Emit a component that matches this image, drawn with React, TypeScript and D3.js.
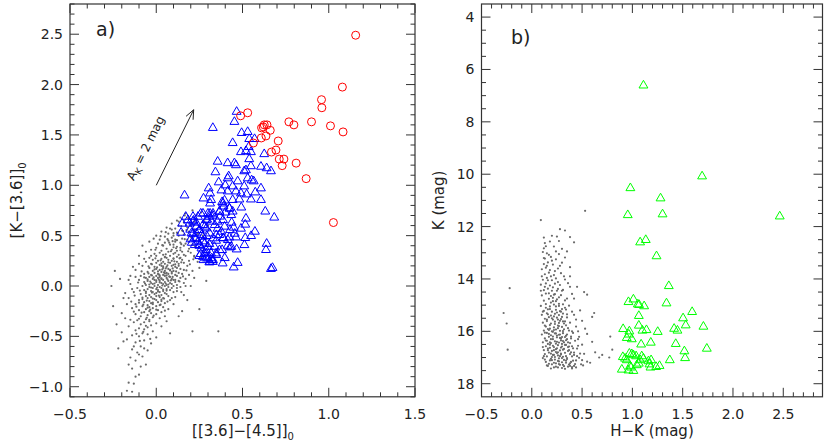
import React from "react";
import * as d3 from "d3";

// ---------- Panel a data ----------
const redCircles: [number, number][] = [
  [1.156, 2.49], [1.079, 1.975], [0.958, 1.85], [0.96, 1.77], [0.489, 1.69], [0.53, 1.72],
  [0.769, 1.63], [0.798, 1.6], [0.9, 1.63], [1.01, 1.59], [1.083, 1.53], [0.611, 1.57],
  [0.626, 1.6], [0.642, 1.6], [0.62, 1.58], [0.661, 1.546], [0.636, 1.49], [0.609, 1.47],
  [0.563, 1.42], [0.707, 1.44], [0.694, 1.35], [0.668, 1.33], [0.713, 1.26], [0.74, 1.26],
  [0.73, 1.195], [0.811, 1.22], [0.869, 1.066], [1.027, 0.63],
];

const blueTriangles: [number, number][] = [
  [0.466, 1.73], [0.453, 1.63], [0.328, 1.57], [0.495, 1.52], [0.53, 1.53], [0.539, 1.46],
  [0.57, 1.46], [0.443, 1.42], [0.536, 1.38], [0.549, 1.33], [0.52, 1.34], [0.491, 1.33],
  [0.626, 1.31], [0.356, 1.235], [0.414, 1.22], [0.453, 1.22], [0.462, 1.2], [0.539, 1.26],
  [0.549, 1.19], [0.607, 1.185], [0.64, 1.17], [0.665, 1.14], [0.343, 1.13], [0.42, 1.09],
  [0.414, 1.07], [0.51, 1.14], [0.52, 1.15], [0.53, 1.07], [0.553, 1.05], [0.565, 1.04],
  [0.472, 1.04], [0.443, 0.99], [0.362, 1.03], [0.4, 1.0], [0.51, 0.99], [0.607, 0.97],
  [0.304, 0.97], [0.312, 0.92], [0.378, 0.95], [0.414, 0.94], [0.462, 0.94], [0.491, 0.92],
  [0.574, 0.93], [0.524, 0.91], [0.164, 0.9], [0.274, 0.87], [0.318, 0.855], [0.382, 0.834],
  [0.443, 0.855], [0.482, 0.86], [0.549, 0.86], [0.607, 0.855], [0.312, 0.82], [0.39, 0.79],
  [0.424, 0.77], [0.493, 0.78], [0.366, 0.74], [0.4, 0.73], [0.443, 0.74], [0.632, 0.74],
  [0.258, 0.72], [0.312, 0.72], [0.328, 0.7], [0.37, 0.69], [0.684, 0.68], [0.15, 0.62],
  [0.231, 0.63], [0.216, 0.65], [0.295, 0.66], [0.355, 0.64], [0.437, 0.63], [0.52, 0.67],
  [0.516, 0.61], [0.449, 0.58], [0.428, 0.556], [0.356, 0.57], [0.281, 0.59], [0.197, 0.56],
  [0.25, 0.556], [0.572, 0.54], [0.491, 0.57], [0.455, 0.52], [0.366, 0.507], [0.212, 0.52],
  [0.144, 0.53], [0.293, 0.497], [0.55, 0.497], [0.516, 0.477], [0.39, 0.477], [0.424, 0.483],
  [0.462, 0.483], [0.199, 0.464], [0.231, 0.47], [0.27, 0.444], [0.347, 0.45], [0.206, 0.43],
  [0.308, 0.417], [0.64, 0.42], [0.511, 0.407], [0.414, 0.4], [0.428, 0.384], [0.337, 0.39],
  [0.25, 0.4], [0.289, 0.358], [0.382, 0.358], [0.466, 0.364], [0.636, 0.358], [0.258, 0.318],
  [0.347, 0.324], [0.318, 0.324], [0.397, 0.278], [0.25, 0.298], [0.289, 0.275], [0.324, 0.258],
  [0.274, 0.258], [0.308, 0.235], [0.328, 0.24], [0.385, 0.225], [0.472, 0.23], [0.449, 0.185],
  [0.665, 0.17], [0.674, 0.18],
  [0.194, 0.62], [0.213, 0.64], [0.233, 0.59], [0.252, 0.556], [0.271, 0.606], [0.29, 0.573],
  [0.262, 0.506], [0.223, 0.474], [0.242, 0.44], [0.281, 0.424], [0.3, 0.39], [0.262, 0.374],
  [0.29, 0.325], [0.32, 0.275], [0.31, 0.24], [0.329, 0.258], [0.348, 0.308], [0.367, 0.357],
  [0.204, 0.523], [0.213, 0.688], [0.31, 0.688], [0.329, 0.72], [0.367, 0.738], [0.387, 0.82],
  [0.396, 0.85], [0.425, 0.77], [0.435, 0.705], [0.387, 0.655], [0.396, 0.59], [0.377, 0.54],
  [0.348, 0.506], [0.387, 0.474], [0.415, 0.457], [0.435, 0.39], [0.329, 0.474], [0.31, 0.523],
  [0.184, 0.655], [0.171, 0.688], [0.271, 0.72], [0.3, 0.72], [0.242, 0.688], [0.29, 0.655],
  [0.32, 0.64], [0.339, 0.606], [0.271, 0.49], [0.233, 0.523], [0.252, 0.407], [0.223, 0.407],
  [0.281, 0.325], [0.271, 0.29], [0.3, 0.275],
];

const grayA: [number, number][] = [
  [0.21, 0.75], [0.17, 0.72], [0.26, 0.73], [0.23, 0.7], [0.14, 0.68], [0.19, 0.67],
  [0.12, 0.65], [0.22, 0.64], [0.28, 0.66], [0.09, 0.62], [0.16, 0.63], [0.2, 0.61],
  [0.13, 0.6], [0.25, 0.59], [0.06, 0.58], [0.11, 0.57], [0.18, 0.58], [0.22, 0.56],
  [0.15, 0.55], [0.09, 0.56], [0.03, 0.54], [0.12, 0.53], [0.19, 0.54], [0.24, 0.52],
  [0.07, 0.52], [0.16, 0.51], [0.1, 0.5], [0.0, 0.5], [0.05, 0.49], [0.13, 0.5],
  [0.2, 0.49], [0.27, 0.5], [0.09, 0.48], [0.15, 0.47], [0.11, 0.46], [0.02, 0.46],
  [0.07, 0.45], [0.18, 0.46], [0.23, 0.45], [-0.04, 0.44], [0.11, 0.44], [0.14, 0.43],
  [0.05, 0.43], [0.01, 0.42], [0.08, 0.41], [0.17, 0.42], [0.21, 0.41], [-0.08, 0.4],
  [0.04, 0.4], [0.12, 0.39], [0.1, 0.41], [0.16, 0.4], [0.0, 0.38], [0.06, 0.37],
  [0.14, 0.38], [0.19, 0.37], [0.25, 0.38], [-0.03, 0.36], [0.09, 0.36], [0.03, 0.35],
  [0.12, 0.35], [-0.06, 0.34], [0.02, 0.33], [0.07, 0.34], [0.11, 0.33], [0.15, 0.34],
  [0.2, 0.33], [-0.01, 0.32], [0.04, 0.31], [0.1, 0.32], [0.13, 0.31], [-0.1, 0.3],
  [0.0, 0.3], [0.05, 0.29], [0.08, 0.3], [0.12, 0.29], [0.17, 0.3], [0.22, 0.29],
  [-0.04, 0.28], [0.03, 0.27], [0.06, 0.28], [0.1, 0.27], [0.14, 0.28], [-0.02, 0.26],
  [0.01, 0.25], [0.07, 0.26], [0.09, 0.25], [0.15, 0.26], [0.19, 0.25], [-0.06, 0.24],
  [0.0, 0.23], [0.04, 0.24], [0.08, 0.23], [0.12, 0.24], [0.16, 0.23], [0.24, 0.24],
  [-0.03, 0.22], [0.02, 0.21], [0.05, 0.22], [0.1, 0.21], [0.13, 0.22], [-0.08, 0.2],
  [-0.01, 0.19], [0.03, 0.2], [0.06, 0.19], [0.09, 0.2], [0.11, 0.19], [0.18, 0.2],
  [-0.04, 0.18], [0.0, 0.17], [0.04, 0.18], [0.07, 0.17], [0.12, 0.18], [0.14, 0.17],
  [-0.12, 0.16], [-0.02, 0.15], [0.02, 0.16], [0.05, 0.15], [0.08, 0.16], [0.1, 0.15],
  [0.16, 0.16], [0.21, 0.15], [-0.05, 0.14], [-0.01, 0.13], [0.03, 0.14], [0.06, 0.13],
  [0.09, 0.14], [0.13, 0.13], [-0.07, 0.12], [-0.03, 0.11], [0.01, 0.12], [0.04, 0.11],
  [0.07, 0.12], [0.11, 0.11], [0.15, 0.12], [0.19, 0.11], [-0.09, 0.1], [-0.04, 0.09],
  [0.0, 0.1], [0.02, 0.09], [0.05, 0.1], [0.08, 0.09], [0.12, 0.1], [-0.06, 0.08],
  [-0.02, 0.07], [0.01, 0.08], [0.03, 0.07], [0.06, 0.08], [0.09, 0.07], [0.14, 0.08],
  [0.17, 0.07], [-0.1, 0.06], [-0.05, 0.05], [-0.01, 0.06], [0.02, 0.05], [0.04, 0.06],
  [0.07, 0.05], [0.1, 0.06], [0.13, 0.05], [-0.07, 0.04], [-0.03, 0.03], [0.0, 0.04],
  [0.03, 0.03], [0.05, 0.04], [0.08, 0.03], [0.11, 0.04], [0.16, 0.03], [-0.15, 0.02],
  [-0.06, 0.01], [-0.02, 0.02], [0.01, 0.01], [0.04, 0.02], [0.06, 0.01], [0.09, 0.02],
  [0.12, 0.01], [-0.08, 0.0], [-0.04, -0.01], [-0.01, 0.0], [0.02, -0.01], [0.05, 0.0],
  [0.07, -0.01], [0.1, 0.0], [0.14, -0.01], [0.2, 0.0], [-0.11, -0.02], [-0.05, -0.03],
  [-0.02, -0.02], [0.0, -0.03], [0.03, -0.02], [0.06, -0.03], [0.09, -0.02], [-0.07, -0.04],
  [-0.03, -0.05], [0.01, -0.04], [0.04, -0.05], [0.08, -0.04], [0.12, -0.05], [-0.13, -0.06],
  [-0.06, -0.07], [-0.02, -0.06], [0.0, -0.07], [0.02, -0.06], [0.05, -0.07], [0.1, -0.06],
  [-0.09, -0.08], [-0.04, -0.09], [-0.01, -0.08], [0.03, -0.09], [0.06, -0.08], [0.16, -0.09],
  [-0.06, -0.1], [-0.03, -0.11], [0.0, -0.1], [0.02, -0.11], [0.07, -0.1], [0.11, -0.11],
  [-0.16, -0.12], [-0.08, -0.13], [-0.05, -0.12], [-0.01, -0.13], [0.04, -0.12], [-0.1, -0.14],
  [-0.04, -0.15], [0.0, -0.14], [0.03, -0.15], [0.08, -0.14], [-0.07, -0.16], [-0.03, -0.17],
  [0.01, -0.16], [0.05, -0.17], [-0.12, -0.18], [-0.05, -0.19], [-0.02, -0.18], [0.02, -0.19],
  [0.1, -0.18], [-0.08, -0.2], [-0.04, -0.21], [0.0, -0.2], [0.04, -0.21], [-0.14, -0.22],
  [-0.06, -0.23], [-0.02, -0.22], [0.07, -0.23], [-0.1, -0.24], [-0.04, -0.25], [0.01, -0.24],
  [0.15, -0.25], [-0.07, -0.26], [-0.03, -0.27], [0.03, -0.26], [-0.12, -0.28], [-0.05, -0.29],
  [0.0, -0.28], [-0.09, -0.3], [-0.02, -0.31], [0.05, -0.3], [-0.18, -0.32], [-0.06, -0.33],
  [0.02, -0.32], [-0.11, -0.34], [-0.04, -0.35], [-0.07, -0.36], [0.0, -0.37], [-0.13, -0.36],
  [-0.09, -0.38], [-0.03, -0.39], [-0.16, -0.4], [-0.05, -0.41], [0.03, -0.4], [-0.1, -0.42],
  [-0.07, -0.43], [-0.12, -0.44], [-0.02, -0.45], [-0.2, -0.46], [-0.08, -0.47], [-0.05, -0.48],
  [-0.14, -0.49], [-0.1, -0.5], [0.0, -0.51], [-0.17, -0.53], [-0.07, -0.54], [-0.12, -0.56],
  [-0.03, -0.57], [-0.09, -0.6], [-0.14, -0.63], [-0.05, -0.64], [-0.11, -0.66], [-0.08, -0.7],
  [-0.15, -0.71], [-0.12, -0.74], [-0.06, -0.78], [-0.14, -0.82], [-0.1, -0.88], [-0.16, -0.96],
  [-0.13, -0.97], [-0.17, -1.04], [-0.14, -1.05],
  [-0.26, 0.0], [-0.24, 0.15], [-0.23, -0.38], [-0.2, -0.27], [0.25, -0.23], [0.21, -0.45],
  [0.36, -0.45], [0.25, 0.18], [0.29, 0.05], [-0.19, -0.12], [0.17, 0.0], [0.3, 0.6],
  [0.19, 0.44], [0.2, 0.6], [0.24, 0.52], [0.27, 0.35], [0.3, 0.42], [0.22, 0.3], [0.26, 0.28],
  [-0.21, 0.07], [-0.17, -0.18], [-0.15, 0.1], [0.18, -0.14], [0.22, 0.08], [-0.19, -0.55],
  [-0.22, -0.62], [0.06, -0.35], [0.08, -0.47], [-0.25, -0.2], [0.13, -0.3],
];

const grayAExtra: [number, number][] = [
  [0.015, 0.115], [0.045, 0.135], [0.075, 0.095], [-0.015, 0.085], [0.035, 0.165], [0.065, 0.205],
  [0.095, 0.175], [-0.035, 0.045], [0.005, -0.015], [0.055, 0.025], [0.085, 0.055], [0.115, 0.145],
  [0.025, 0.255], [0.055, 0.315], [-0.045, 0.125], [-0.065, 0.025], [-0.025, -0.065], [0.015, -0.095],
  [0.045, -0.125], [-0.055, -0.145], [0.105, 0.245], [0.135, 0.275], [0.085, 0.345], [0.115, 0.375],
  [0.145, 0.415], [0.165, 0.465], [0.095, 0.445], [0.035, 0.405], [0.065, 0.465], [0.125, 0.525],
  [0.175, 0.555], [0.145, 0.595], [0.205, 0.625], [0.185, 0.675], [0.235, 0.655], [0.005, 0.185],
  [-0.025, 0.215], [-0.085, 0.145], [-0.105, 0.035], [-0.095, -0.045], [-0.125, -0.095], [-0.075, -0.185],
  [-0.035, -0.235], [0.025, -0.185], [0.065, -0.155], [-0.015, -0.295], [-0.055, -0.315], [-0.085, -0.265],
  [-0.115, -0.205], [-0.145, -0.155], [0.135, 0.045], [0.155, 0.095], [0.175, 0.155], [0.195, 0.215],
  [0.215, 0.265], [0.185, 0.345], [0.225, 0.395], [0.205, 0.485], [0.245, 0.445], [0.0, 0.055],
  [0.03, 0.075], [0.06, 0.105], [0.09, 0.125], [0.02, 0.035], [-0.01, 0.025], [0.04, -0.035],
  [0.07, 0.015], [-0.04, 0.015], [0.01, 0.145], [0.04, 0.195], [0.07, 0.235], [0.1, 0.275],
  [0.05, 0.285], [-0.005, 0.275], [-0.045, 0.195], [-0.07, 0.085], [-0.02, -0.125], [0.0, -0.235],
  [-0.04, -0.335], [-0.06, -0.395], [-0.1, -0.325], [-0.13, -0.255], [-0.15, -0.335], [-0.075, -0.455],
  [-0.115, -0.475], [-0.035, -0.525], [-0.095, -0.545], [-0.13, -0.6], [-0.07, -0.62], [-0.1, -0.68],
  [-0.16, -0.78], [-0.09, -0.8], [-0.12, -0.9], [0.12, -0.02], [0.145, -0.06], [0.09, -0.12],
  [0.11, 0.06], [0.13, 0.2], [0.16, 0.31], [0.14, 0.355], [0.1, 0.385], [0.075, 0.43],
  [0.12, 0.455], [0.1, 0.525], [0.155, 0.545], [0.08, 0.57], [0.13, 0.64], [0.165, 0.7],
  [0.22, 0.55], [0.245, 0.6], [-0.005, 0.36], [-0.03, 0.3], [-0.07, 0.27], [-0.1, 0.22],
  [-0.135, 0.19], [-0.16, 0.06], [-0.14, -0.03], [-0.18, -0.07], [-0.12, 0.09], [0.025, 0.495],
  [0.055, 0.535], [-0.015, 0.47], [0.035, 0.005], [0.065, 0.065], [0.095, 0.09], [0.015, 0.065],
  [-0.025, 0.105], [0.05, 0.125], [0.08, 0.155], [0.11, 0.215], [0.145, 0.235], [0.03, 0.225],
  [-0.01, 0.165], [0.055, 0.175], [0.02, 0.105], [-0.05, 0.065], [-0.03, -0.015], [0.01, -0.055],
  [0.06, -0.045], [-0.06, -0.055], [-0.08, -0.115], [-0.02, -0.165], [0.03, -0.135], [-0.1, -0.165],
  [-0.05, -0.215], [0.05, -0.245],
];

// ---------- Panel b data ----------
const greenTriangles: [number, number][] = [
  [1.11, 6.61], [1.693, 10.08], [0.98, 10.53], [1.28, 10.92], [1.3, 11.53], [0.954, 11.56],
  [2.465, 11.61], [1.077, 12.6], [1.133, 12.51], [1.24, 13.13], [1.362, 14.27], [0.961, 14.88],
  [1.01, 14.78], [1.054, 14.97], [1.067, 14.99], [1.117, 15.04], [1.339, 14.93], [1.594, 15.26],
  [1.504, 15.5], [1.064, 15.41], [1.064, 15.78], [1.53, 15.77], [1.706, 15.82], [0.908, 15.91],
  [1.14, 15.95], [1.1, 15.97], [1.252, 16.02], [0.97, 16.0], [1.415, 15.9], [1.448, 15.97],
  [0.944, 16.25], [0.964, 16.12], [0.994, 16.3], [1.087, 16.5], [1.183, 16.43], [1.431, 16.48],
  [1.74, 16.66], [1.517, 16.76], [1.524, 17.02], [1.372, 17.1], [0.905, 16.98], [0.927, 17.04],
  [0.97, 16.85], [0.994, 16.87], [1.01, 16.91], [1.037, 16.95], [1.093, 16.95], [1.11, 17.04],
  [1.16, 17.14], [1.186, 17.1], [1.064, 17.23], [1.044, 17.29], [0.977, 17.33], [0.944, 17.1],
  [0.895, 17.46], [0.961, 17.49], [1.01, 17.51], [0.987, 17.38], [1.18, 17.38], [1.236, 17.36],
  [1.27, 17.32], [1.17, 17.26], [1.077, 17.1],
];

const grayB: [number, number][] = [
  [0.12, 12.42], [0.25, 12.38], [0.13, 12.63], [0.18, 12.57], [0.12, 12.83], [0.22, 12.76],
  [0.3, 12.85], [0.15, 13.02], [0.11, 12.97], [0.27, 13.05], [0.13, 13.22], [0.19, 13.16],
  [0.24, 13.25], [0.33, 13.18], [0.12, 13.43], [0.16, 13.37], [0.21, 13.45], [0.3, 13.38],
  [0.1, 13.63], [0.14, 13.57], [0.18, 13.66], [0.26, 13.6], [0.38, 13.55], [0.13, 13.82],
  [0.17, 13.76], [0.22, 13.85], [0.29, 13.78], [0.11, 14.03], [0.15, 13.96], [0.2, 14.05],
  [0.24, 13.98], [0.33, 14.02], [0.09, 14.22], [0.14, 14.17], [0.18, 14.25], [0.23, 14.18],
  [0.28, 14.23], [0.36, 14.16], [0.12, 14.43], [0.16, 14.37], [0.2, 14.45], [0.26, 14.38],
  [0.31, 14.42], [0.1, 14.63], [0.14, 14.56], [0.19, 14.65], [0.23, 14.58], [0.29, 14.62],
  [0.4, 14.57], [0.12, 14.83], [0.17, 14.76], [0.21, 14.85], [0.25, 14.78], [0.33, 14.82],
  [0.09, 15.03], [0.14, 14.96], [0.18, 15.05], [0.22, 14.98], [0.27, 15.03], [0.31, 14.97],
  [0.37, 15.02], [0.12, 15.22], [0.16, 15.16], [0.2, 15.25], [0.24, 15.18], [0.28, 15.23],
  [0.34, 15.17], [0.1, 15.37], [0.15, 15.31], [0.19, 15.4], [0.23, 15.33], [0.27, 15.38],
  [0.31, 15.32], [0.42, 15.37], [0.13, 15.52], [0.17, 15.46], [0.21, 15.55], [0.25, 15.48],
  [0.29, 15.53], [0.35, 15.47], [0.11, 15.67], [0.15, 15.61], [0.19, 15.7], [0.23, 15.63],
  [0.27, 15.68], [0.31, 15.62], [0.38, 15.67], [0.14, 15.82], [0.18, 15.76], [0.22, 15.85],
  [0.26, 15.78], [0.3, 15.83], [0.34, 15.77], [0.44, 15.82], [0.12, 15.97], [0.16, 15.91],
  [0.2, 16.0], [0.24, 15.93], [0.28, 15.98], [0.32, 15.92], [0.37, 15.97], [0.1, 16.12],
  [0.15, 16.06], [0.19, 16.15], [0.23, 16.08], [0.27, 16.13], [0.31, 16.07], [0.35, 16.12],
  [0.41, 16.06], [0.13, 16.27], [0.17, 16.21], [0.21, 16.3], [0.25, 16.23], [0.29, 16.28],
  [0.33, 16.22], [0.39, 16.27], [0.47, 16.21], [0.11, 16.42], [0.15, 16.36], [0.19, 16.45],
  [0.23, 16.38], [0.27, 16.43], [0.31, 16.37], [0.36, 16.42], [0.43, 16.36], [0.14, 16.57],
  [0.18, 16.51], [0.22, 16.6], [0.26, 16.53], [0.3, 16.58], [0.34, 16.52], [0.4, 16.57],
  [0.5, 16.51], [0.12, 16.72], [0.16, 16.66], [0.2, 16.75], [0.24, 16.68], [0.28, 16.73],
  [0.32, 16.67], [0.37, 16.72], [0.45, 16.66], [0.13, 16.87], [0.17, 16.81], [0.21, 16.9],
  [0.25, 16.83], [0.29, 16.88], [0.33, 16.82], [0.38, 16.87], [0.42, 16.81], [0.52, 16.86],
  [0.11, 17.02], [0.15, 16.96], [0.19, 17.05], [0.23, 16.98], [0.27, 17.03], [0.31, 16.97],
  [0.35, 17.02], [0.4, 16.96], [0.47, 17.01], [0.14, 17.17], [0.18, 17.11], [0.22, 17.2],
  [0.26, 17.13], [0.3, 17.18], [0.34, 17.12], [0.39, 17.17], [0.44, 17.11], [0.55, 17.16],
  [0.16, 17.32], [0.2, 17.26], [0.24, 17.35], [0.28, 17.28], [0.32, 17.33], [0.37, 17.27],
  [0.42, 17.32], [0.49, 17.26], [0.19, 17.42], [0.26, 17.38], [0.33, 17.43], [0.4, 17.37],
  [0.21, 16.02], [0.25, 16.16], [0.29, 16.35], [0.18, 16.63], [0.24, 16.79], [0.28, 16.95],
  [0.32, 17.09], [0.2, 17.1], [0.36, 16.6], [0.26, 15.88], [0.16, 16.48], [0.34, 16.95],
  [0.22, 15.43], [0.28, 15.6], [0.17, 15.95], [0.3, 16.22], [0.24, 16.47], [0.13, 17.08],
  [0.38, 17.22], [0.27, 17.25], [0.22, 16.9], [0.31, 16.7], [0.19, 16.3], [0.35, 16.3],
  [-0.28, 15.3], [-0.25, 15.7], [-0.22, 14.35], [-0.24, 16.7], [0.09, 11.75], [0.53, 11.4],
  [0.2, 12.35], [0.28, 12.1], [0.33, 12.15], [0.42, 12.6], [0.38, 12.4], [0.52, 14.5],
  [0.55, 14.6], [0.6, 15.45], [0.62, 15.3], [0.45, 14.3], [0.78, 16.2], [0.8, 16.7],
  [0.77, 17.0], [0.67, 17.0], [0.7, 16.9], [0.6, 16.4], [0.63, 16.8], [0.55, 16.1],
  [0.5, 15.6], [0.48, 15.2], [0.58, 17.2], [0.51, 17.3], [0.46, 16.0], [0.53, 15.9],
];

const grayBExtra: [number, number][] = [
  [0.21, 16.55], [0.25, 16.65], [0.29, 16.85], [0.23, 17.08], [0.27, 17.15], [0.31, 17.28],
  [0.35, 17.06], [0.19, 16.85], [0.17, 17.24], [0.22, 17.38], [0.3, 17.4], [0.36, 17.35],
  [0.41, 17.12], [0.45, 16.95], [0.43, 17.25], [0.39, 16.8], [0.33, 16.52], [0.29, 16.62],
  [0.25, 16.4], [0.21, 16.2], [0.17, 16.1], [0.14, 16.35], [0.18, 15.9], [0.23, 15.72],
  [0.27, 15.8], [0.31, 15.99], [0.34, 16.17], [0.38, 16.45], [0.41, 16.65], [0.46, 16.55],
  [0.48, 16.85], [0.2, 15.5], [0.25, 15.28], [0.16, 15.35], [0.3, 15.45], [0.33, 15.62],
  [0.36, 15.88], [0.4, 16.0], [0.13, 15.78], [0.11, 16.6], [0.12, 16.95], [0.15, 17.3],
  [0.14, 15.1], [0.19, 14.9], [0.24, 14.85], [0.27, 14.7], [0.17, 14.55], [0.21, 14.32],
  [0.26, 14.12], [0.16, 14.05], [0.13, 14.3], [0.19, 13.9], [0.23, 13.7], [0.15, 13.5],
  [0.2, 13.3], [0.17, 13.08], [0.14, 12.75], [0.24, 12.95], [0.28, 13.5], [0.32, 13.9],
  [0.3, 14.45], [0.35, 14.75], [0.38, 14.3], [0.33, 15.1], [0.3, 15.15], [0.26, 15.55],
  [0.22, 15.95], [0.28, 16.25], [0.32, 16.42], [0.36, 16.75], [0.26, 16.92], [0.3, 17.02],
  [0.34, 17.2], [0.38, 17.32], [0.24, 17.22], [0.2, 16.98], [0.18, 16.42], [0.24, 16.08],
  [0.28, 16.12], [0.16, 16.72], [0.22, 16.72], [0.26, 16.8], [0.3, 16.48], [0.34, 16.34],
  [0.37, 16.58], [0.42, 16.9], [0.44, 17.38], [0.4, 17.42], [0.5, 17.1], [0.46, 16.3],
  [0.25, 14.45], [0.22, 14.6], [0.18, 15.15], [0.15, 15.55], [0.29, 15.25], [0.32, 15.7],
  [0.24, 15.05], [0.21, 14.72], [0.27, 14.95], [0.35, 15.35], [0.13, 16.05], [0.11, 15.25],
  [0.09, 14.45], [0.1, 13.9], [0.12, 13.2], [0.27, 12.55], [0.35, 12.95], [0.38, 13.9],
  [0.42, 14.75], [0.44, 15.55], [0.4, 15.25], [0.39, 16.2],
];

// ---------- axes ----------
const aXTicks = [-0.5, 0.0, 0.5, 1.0, 1.5];
const aYTicks = [-1.0, -0.5, 0.0, 0.5, 1.0, 1.5, 2.0, 2.5];
const bXTicks = [-0.5, 0.0, 0.5, 1.0, 1.5, 2.0, 2.5];
const bYTicks = [4, 6, 8, 10, 12, 14, 16, 18];

const FONT = "DejaVu Sans, sans-serif";
const AX = "#333";
const GRAY = "#6a6a6a";

type Scale = d3.ScaleLinear<number, number>;

function Frame({ x, y, xMajor, xMinor, yMajor, yMinor, xFmt, yFmt }: {
  x: Scale; y: Scale; xMajor: number[]; xMinor: number[]; yMajor: number[]; yMinor: number[];
  xFmt: (v: number) => string; yFmt: (v: number) => string;
}) {
  const [x0, x1] = x.range();
  const [ya, yb] = y.range();
  const yTop = Math.min(ya, yb), yBot = Math.max(ya, yb);
  const M = 9, m = 4.5;
  return (
    <g>
      <rect x={x0} y={yTop} width={x1 - x0} height={yBot - yTop} fill="none" stroke={AX} strokeWidth={1.2} />
      {xMajor.map((v) => (
        <g key={"xM" + v}>
          <line x1={x(v)} x2={x(v)} y1={yBot} y2={yBot - M} stroke={AX} />
          <line x1={x(v)} x2={x(v)} y1={yTop} y2={yTop + M} stroke={AX} />
          <text x={x(v)} y={yBot + 22} textAnchor="middle" fontFamily={FONT} fontSize={14} fill="#222">{xFmt(v)}</text>
        </g>
      ))}
      {xMinor.map((v) => (
        <g key={"xm" + v}>
          <line x1={x(v)} x2={x(v)} y1={yBot} y2={yBot - m} stroke={AX} />
          <line x1={x(v)} x2={x(v)} y1={yTop} y2={yTop + m} stroke={AX} />
        </g>
      ))}
      {yMajor.map((v) => (
        <g key={"yM" + v}>
          <line x1={x0} x2={x0 + M} y1={y(v)} y2={y(v)} stroke={AX} />
          <line x1={x1} x2={x1 - M} y1={y(v)} y2={y(v)} stroke={AX} />
          <text x={x0 - 7} y={y(v) + 5} textAnchor="end" fontFamily={FONT} fontSize={14} fill="#222">{yFmt(v)}</text>
        </g>
      ))}
      {yMinor.map((v) => (
        <g key={"ym" + v}>
          <line x1={x0} x2={x0 + m} y1={y(v)} y2={y(v)} stroke={AX} />
          <line x1={x1} x2={x1 - m} y1={y(v)} y2={y(v)} stroke={AX} />
        </g>
      ))}
    </g>
  );
}

const minor = (a: number, b: number, step: number) =>
  d3.range(Math.round(a / step), Math.round(b / step) + 1).map((i) => +(i * step).toFixed(3));

export default function App() {
  // Panel a
  const xa = d3.scaleLinear().domain([-0.5, 1.5]).range([70, 415]);
  const ya = d3.scaleLinear().domain([-1.1, 2.8]).range([396.8, 4]);
  // Panel b
  const xb = d3.scaleLinear().domain([-0.5, 2.89]).range([481.5, 822.5]);
  const yb = d3.scaleLinear().domain([3.5, 18.5]).range([4, 396.8]);

  const tri = d3.symbol().type(d3.symbolTriangle).size(34)()!;
  const fmt1 = d3.format(".1f");
  const neg = (v: number) => fmt1(v).replace("-", "\u2212");

  const ax0 = xa(0.0), ay0 = ya(1.0), ax1 = xa(0.217), ay1 = ya(1.75);
  const ang = (Math.atan2(ay1 - ay0, ax1 - ax0) * 180) / Math.PI;
  const headLen = 10;
  const ar = Math.atan2(ay1 - ay0, ax1 - ax0);

  const allGrayA = grayA.concat(grayAExtra);
  const allGrayB = grayB.concat(grayBExtra);

  return (
    <svg width={830} height={445} style={{ display: "block", position: "absolute", left: 0, top: 0, background: "#fff" }}>
      <rect width={830} height={445} fill="#fff" />
      {/* Panel a */}
      <g>
        {allGrayA.map((d, i) => (
          <circle key={"ga" + i} cx={xa(d[0])} cy={ya(d[1])} r={1.1} fill={GRAY} />
        ))}
        {blueTriangles.map((d, i) => (
          <path key={"bt" + i} d={tri} transform={`translate(${xa(d[0])},${ya(d[1])})`} fill="none" stroke="#0000ff" strokeWidth={1} />
        ))}
        {redCircles.map((d, i) => (
          <circle key={"rc" + i} cx={xa(d[0])} cy={ya(d[1])} r={4} fill="none" stroke="#ff0000" strokeWidth={1} />
        ))}
        <line x1={ax0} y1={ay0} x2={ax1} y2={ay1} stroke="#222" strokeWidth={1} />
        <path
          d={`M${ax1 - headLen * Math.cos(ar - 0.4)},${ay1 - headLen * Math.sin(ar - 0.4)} L${ax1},${ay1} L${ax1 - headLen * Math.cos(ar + 0.4)},${ay1 - headLen * Math.sin(ar + 0.4)}`}
          fill="none" stroke="#222" strokeWidth={1}
        />
        <text transform={`translate(${xa(-0.04)},${ya(1.35)}) rotate(${ang})`} textAnchor="middle" fontFamily={FONT} fontSize={12} fill="#222">
          A<tspan fontSize={9} dy={3}>K</tspan><tspan dy={-3}> = 2 mag</tspan>
        </text>
        <text x={96} y={36} fontFamily={FONT} fontSize={19} fill="#222">a)</text>
        <Frame x={xa} y={ya} xMajor={aXTicks} xMinor={minor(-0.5, 1.5, 0.1).filter((v) => !aXTicks.some((t) => Math.abs(t - v) < 1e-6))}
          yMajor={aYTicks} yMinor={minor(-1.1, 2.8, 0.1).filter((v) => !aYTicks.some((t) => Math.abs(t - v) < 1e-6))}
          xFmt={neg} yFmt={neg} />
        <text x={243} y={436} textAnchor="middle" fontFamily={FONT} fontSize={15} fill="#222">
          [[3.6]{"\u2212"}[4.5]]<tspan fontSize={10} dy={4}>0</tspan>
        </text>
        <text transform={`translate(22,${ya(0.85)}) rotate(-90)`} textAnchor="middle" fontFamily={FONT} fontSize={15} fill="#222">
          [K{"\u2212"}[3.6]]<tspan fontSize={10} dy={4}>0</tspan>
        </text>
      </g>
      {/* Panel b */}
      <g>
        {allGrayB.map((d, i) => (
          <circle key={"gb" + i} cx={xb(d[0])} cy={yb(d[1])} r={1.1} fill={GRAY} />
        ))}
        {greenTriangles.map((d, i) => (
          <path key={"gt" + i} d={tri} transform={`translate(${xb(d[0])},${yb(d[1])})`} fill="none" stroke="#00ff00" strokeWidth={1} />
        ))}
        <text x={511} y={44} fontFamily={FONT} fontSize={19} fill="#222">b)</text>
        <Frame x={xb} y={yb} xMajor={bXTicks} xMinor={minor(-0.5, 2.8, 0.1).filter((v) => !bXTicks.some((t) => Math.abs(t - v) < 1e-6))}
          yMajor={bYTicks} yMinor={minor(4, 18, 0.5).filter((v) => !bYTicks.some((t) => Math.abs(t - v) < 1e-6))}
          xFmt={neg} yFmt={(v) => String(v)} />
        <text x={652} y={436} textAnchor="middle" fontFamily={FONT} fontSize={15} fill="#222">H{"\u2212"}K (mag)</text>
        <text transform={`translate(444,${yb(11)}) rotate(-90)`} textAnchor="middle" fontFamily={FONT} fontSize={15} fill="#222">K (mag)</text>
      </g>
    </svg>
  );
}
